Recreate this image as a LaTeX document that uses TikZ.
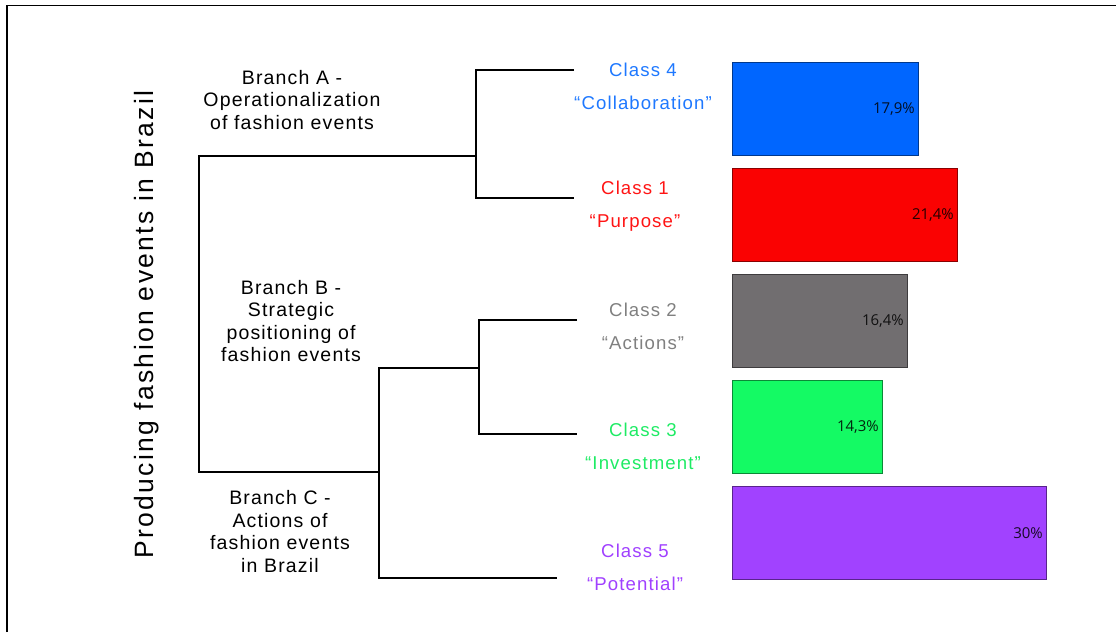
\documentclass[tikz,border=0pt]{standalone}
\usepackage{fontspec}
\setmainfont{Liberation Sans}
\newfontfamily\labfont{Liberation Sans}[LetterSpace=6]
\newfontfamily\titlefont{Liberation Sans}[LetterSpace=9]
\newfontfamily\pctfont{Open Sans}
\definecolor{ctext4}{RGB}{30,120,255}
\definecolor{cbar4}{RGB}{0,102,255}
\definecolor{ctext1}{RGB}{255,20,20}
\definecolor{cbar1}{RGB}{250,2,2}
\definecolor{ctext2}{RGB}{128,128,128}
\definecolor{cbar2}{RGB}{113,110,112}
\definecolor{ctext3}{RGB}{30,235,100}
\definecolor{cbar3}{RGB}{20,250,100}
\definecolor{ctext5}{RGB}{160,64,255}
\definecolor{cbar5}{RGB}{161,66,255}
\begin{document}
\begin{tikzpicture}[x=1pt,y=-1pt,
  frame/.style={line width=1.6pt},
  dendro/.style={line width=2.3pt, line join=miter},
  branchlab/.style={inner sep=0pt, align=center, font=\labfont\fontsize{19.5}{22.5}\selectfont},
  classlab/.style={inner sep=0pt, align=center, font=\labfont\fontsize{18.6}{33}\selectfont},
  bar/.style={draw=#1!55!black, fill=#1, line width=1pt, anchor=north west, minimum height=93pt, inner sep=0pt},
  pct/.style={inner sep=0pt, anchor=east, text opacity=0.85, font=\pctfont\fontsize{15}{18}\selectfont}
]
\useasboundingbox (0,0) rectangle (1116,632);
% frame (only top and left edges visible)
\coordinate (fbl) at (7,632);
\coordinate (ftl) at (7,5.5);
\coordinate (ftr) at (1116,5.5);
\draw[frame] (fbl) -- (ftl) -- (ftr);

% title
\node[inner sep=0pt, rotate=90, font=\titlefont\fontsize{26.5}{30}\selectfont] (title) at (147,324.5) {Producing fashion events in Brazil};

% dendrogram coordinates
\coordinate (root) at (199,314);
\coordinate (jA) at (476,156);
\coordinate (jBC) at (379,472);
\coordinate (jB) at (479,368);
\coordinate (e4) at (574,70);
\coordinate (e1) at (574,198);
\coordinate (e2) at (577,320);
\coordinate (e3) at (577,434);
\coordinate (e5) at (557,578);

\draw[dendro] (jA) -| (root) |- (jBC);
\draw[dendro] (e4) -| (jA) |- (e1);
\draw[dendro] (jB) -| (jBC) |- (e5);
\draw[dendro] (e2) -| (jB) |- (e3);

% branch labels
\node[branchlab] (brA) at (292,100) {Branch A -\\Operationalization\\of fashion events};
\node[branchlab] (brB) at (291,321) {Branch B -\\Strategic\\positioning of\\fashion events};
\node[branchlab] (brC) at (280,531.5) {Branch C -\\Actions of\\fashion events\\in Brazil};

% class labels
\node[classlab, text=ctext4] (cl4) at (643,86) {Class 4\\“Collaboration”};
\node[classlab, text=ctext1] (cl1) at (635,206.5) {Class 1\\“Purpose”};
\node[classlab, text=ctext2] (cl2) at (643,326) {Class 2\\“Actions”};
\node[classlab, text=ctext3] (cl3) at (643,446.5) {Class 3\\“Investment”};
\node[classlab, text=ctext5] (cl5) at (635,567) {Class 5\\“Potential”};

% bars
\node[bar=cbar4, minimum width=186pt] (b4) at (732,62) {};
\node[bar=cbar1, minimum width=225pt] (b1) at (732,168) {};
\node[bar=cbar2, minimum width=175pt] (b2) at (732,274) {};
\node[bar=cbar3, minimum width=150pt] (b3) at (732,380) {};
\node[bar=cbar5, minimum width=314pt] (b5) at (732,486) {};

% percentages
\node[pct] (p4) at ([xshift=-4pt]b4.east) {17,9\%};
\node[pct] (p1) at ([xshift=-4pt]b1.east) {21,4\%};
\node[pct] (p2) at ([xshift=-4pt]b2.east) {16,4\%};
\node[pct] (p3) at ([xshift=-4pt]b3.east) {14,3\%};
\node[pct] (p5) at ([xshift=-4pt]b5.east) {30\%};
\end{tikzpicture}
\end{document}
